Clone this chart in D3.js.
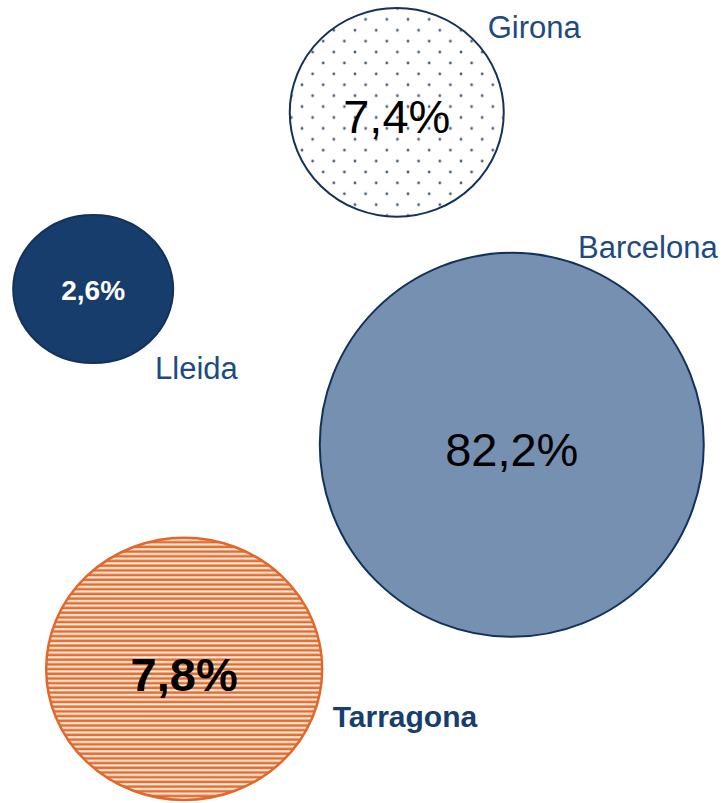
<!DOCTYPE html>
<html>
<head>
<meta charset="utf-8">
<script src="https://cdn.jsdelivr.net/npm/d3@7"></script>
<style>
  body { margin: 0; background: #fff; }
  svg { display: block; font-family: "Liberation Sans", Arial, sans-serif; }
</style>
</head>
<body>
<svg width="728" height="803"></svg>
<script>
// data
var regions = ["Girona", "Lleida", "Barcelona", "Tarragona"];
var shares = [7.4, 2.6, 82.2, 7.8];
var shareLabels = ["7,4%", "2,6%", "82,2%", "7,8%"];

// layout (unit frame, mapped through scales below)
var centreX = [0.545, 0.128, 0.703, 0.253];
var centreY = [0.140, 0.360, 0.554, 0.833];
var squash = [0.975, 0.925, 1.0, 0.95];

var svg = d3.select("svg");
var W = 728, H = 803;

var x = d3.scaleLinear().domain([0, 1]).range([0, W]);
var y = d3.scaleLinear().domain([0, 1]).range([0, H]);
// bubble size isn't proportional in the original, piecewise ramp instead
var r = d3.scaleLinear().domain([2.6, 7.4, 7.8, 82.2]).range([80, 107, 138, 192]);

var defs = svg.append("defs");

var dots = defs.append("pattern")
    .attr("id", "dots")
    .attr("patternUnits", "userSpaceOnUse")
    .attr("x", 302).attr("y", 63)
    .attr("width", 21.2).attr("height", 21.8);
dots.append("rect").attr("width", 21.2).attr("height", 21.8).attr("fill", "#fff");
[[0, 0], [21.2, 0], [0, 21.8], [21.2, 21.8], [10.6, 10.9]].forEach(function(p) {
    dots.append("circle").attr("cx", p[0]).attr("cy", p[1]).attr("r", 1.4).attr("fill", "#4b5d79");
});

var stripes = defs.append("pattern")
    .attr("id", "stripes")
    .attr("patternUnits", "userSpaceOnUse")
    .attr("width", 10).attr("height", 4.7);
stripes.append("rect").attr("width", 10).attr("height", 4.7).attr("fill", "#fbeee4");
stripes.append("rect").attr("y", 0.4).attr("width", 10).attr("height", 2.6).attr("fill", "#e36d2d");

var fills = ["url(#dots)", "#173d6c", "#7590b0", "url(#stripes)"];
var strokes = ["#13315a", "#13315a", "#13315a", "#e2672a"];

var data = regions.map(function(name, i) {
    return { name: name, value: shares[i], label: shareLabels[i], i: i };
});

svg.selectAll("ellipse").data(data).enter()
    .append("ellipse")
    .attr("cx", function(d) { return x(centreX[d.i]); })
    .attr("cy", function(d) { return y(centreY[d.i]); })
    .attr("rx", function(d) { return r(d.value); })
    .attr("ry", function(d) { return r(d.value) * squash[d.i]; })
    .attr("fill", function(d) { return fills[d.i]; })
    .attr("stroke", function(d) { return strokes[d.i]; })
    .attr("stroke-width", function(d) { return d.i == 3 ? 2.5 : 2; });

// percentages inside bubbles
var pctSize = [47, 28, 47, 47];
var pctBold = [false, true, false, true];
var pctColor = ["#000", "#fff", "#000", "#000"];
var pctShift = [0.43, 0.4, 0.46, 0.48];
svg.selectAll("text.pct").data(data).enter()
    .append("text")
    .attr("class", "pct")
    .text(function(d) { return d.label; })
    .attr("text-anchor", "middle")
    .attr("x", function(d) { return x(centreX[d.i]); })
    .attr("y", function(d) { return y(centreY[d.i]) + pctSize[d.i] * pctShift[d.i]; })
    .attr("font-size", function(d) { return pctSize[d.i]; })
    .attr("font-weight", function(d) { return pctBold[d.i] ? "bold" : "normal"; })
    .attr("fill", function(d) { return pctColor[d.i]; });

// region names
var nameX = [0.670, 0.213, 0.794, 0.457];
var nameY = [0.047, 0.472, 0.321, 0.905];
svg.selectAll("text.name").data(data).enter()
    .append("text")
    .attr("class", "name")
    .text(function(d) { return d.name; })
    .attr("x", function(d) { return x(nameX[d.i]); })
    .attr("y", function(d) { return y(nameY[d.i]); })
    .attr("font-size", function(d) { return d.i == 3 ? 30 : 31; })
    .attr("font-weight", function(d) { return d.i == 3 ? "bold" : "normal"; })
    .attr("fill", function(d) { return d.i == 3 ? "#163e6e" : "#1d4a80"; });
</script>
</body>
</html>
